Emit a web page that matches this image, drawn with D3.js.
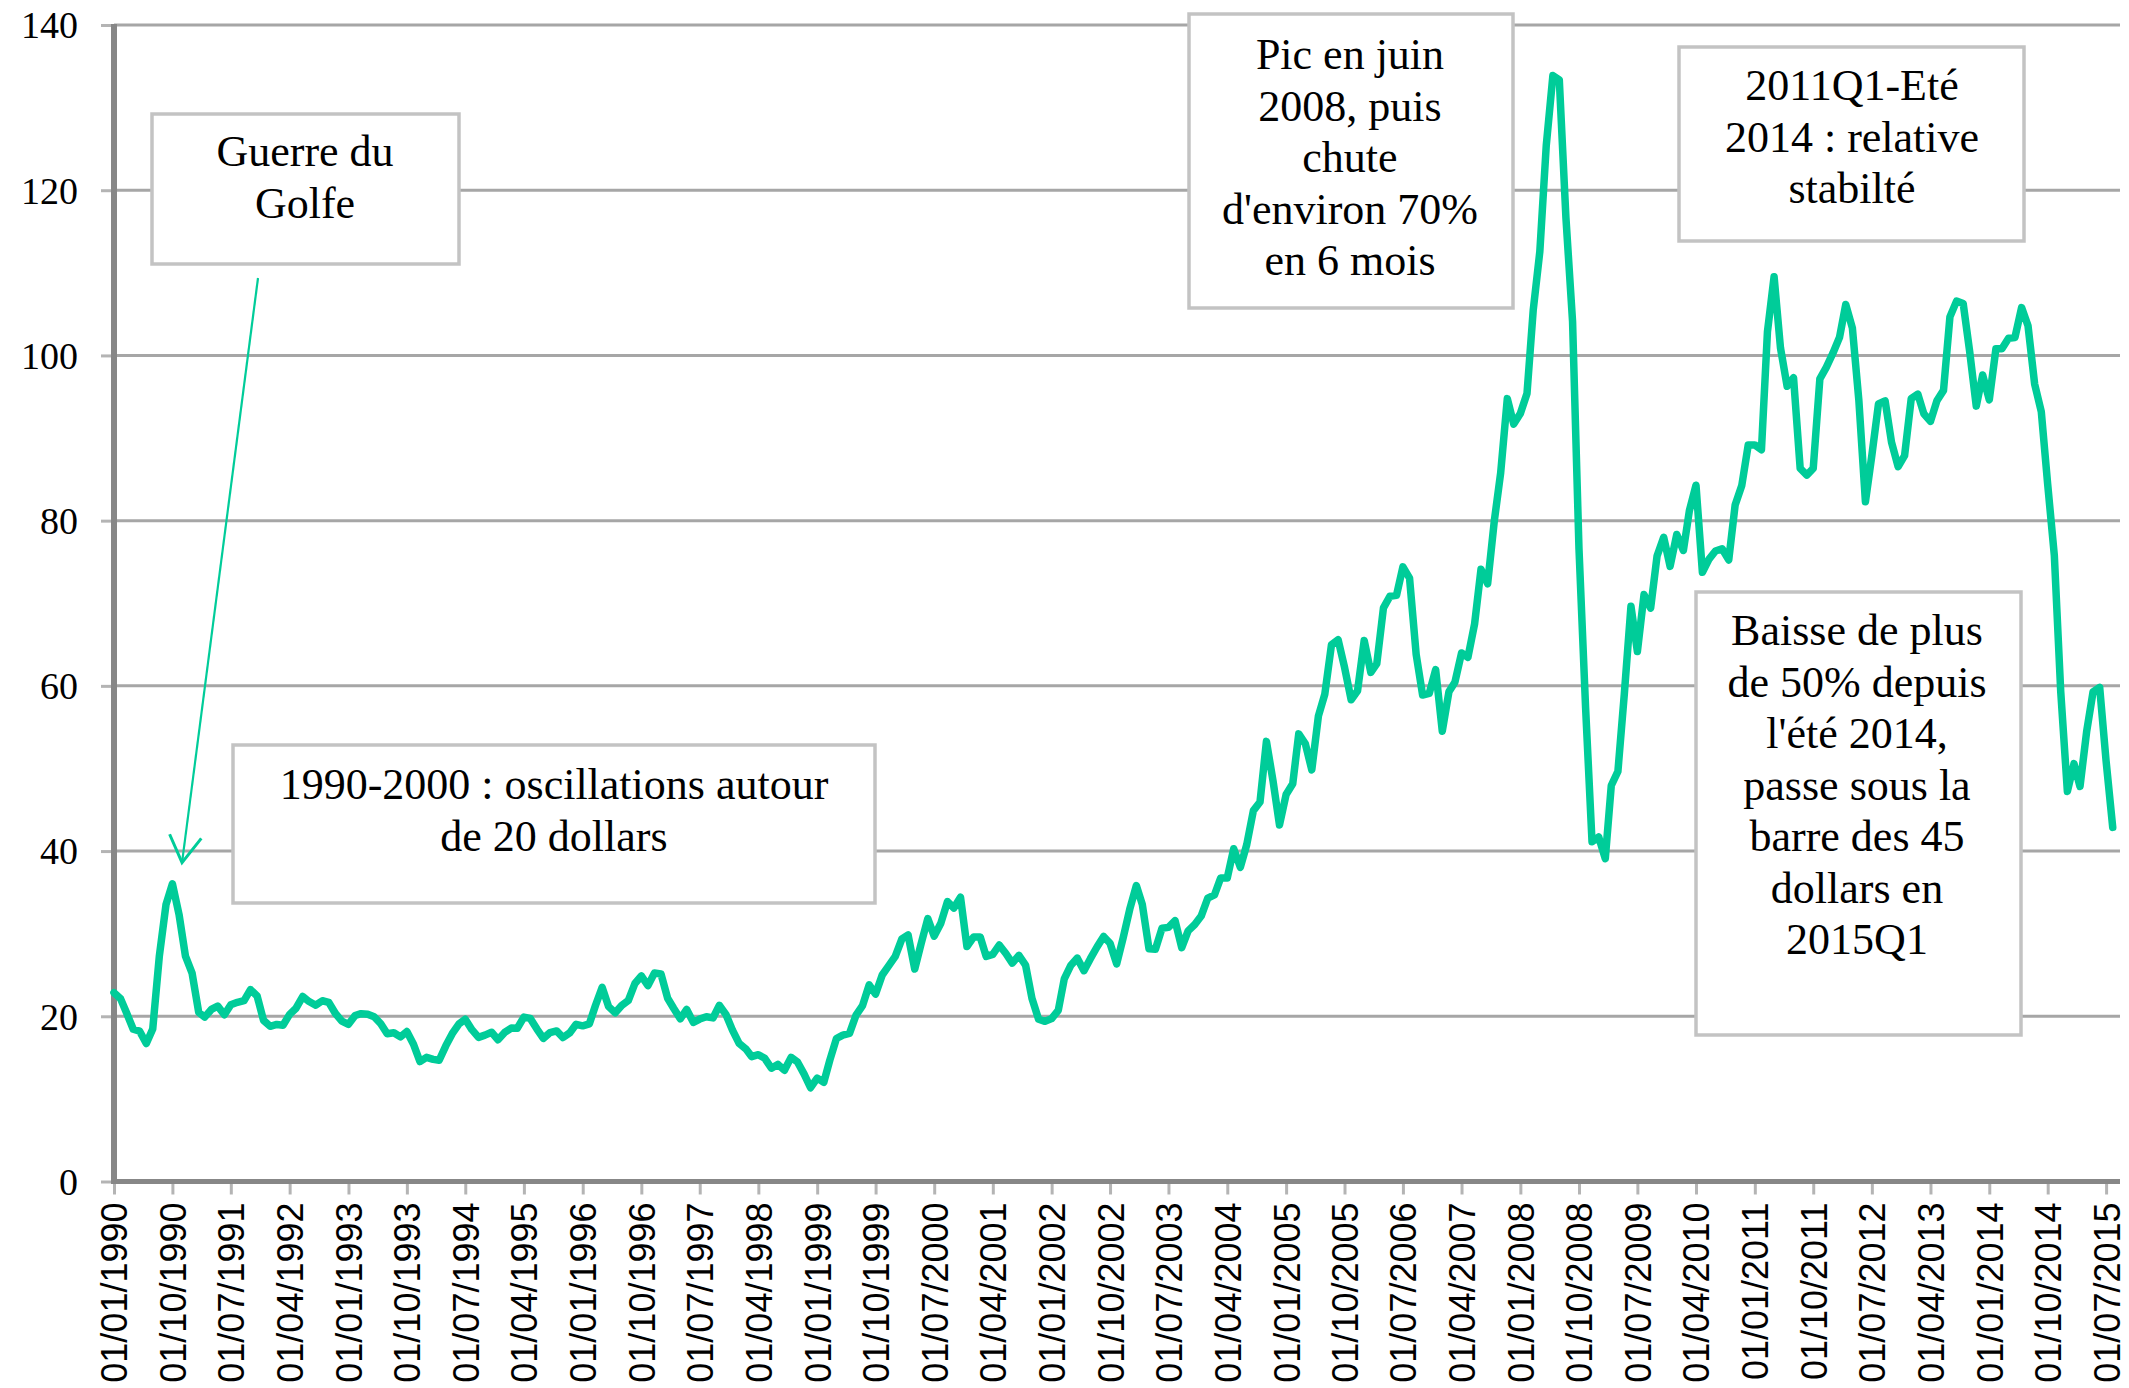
<!DOCTYPE html>
<html>
<head>
<meta charset="utf-8">
<script src="https://cdn.jsdelivr.net/npm/d3@7"></script>
<style>
  body { margin: 0; background: #fff; }
  svg { display: block; }
</style>
</head>
<body>
<svg id="chart" width="2129" height="1388"></svg>
<script>
// monthly WTI spot price, $/barrel, starting January 1990
const firstMonth = "01/01/1990"

const prices1990s = [
  22.86, 22.11, 20.39, 18.43, 18.20, 16.70, 18.45, 27.31, 33.51, 36.04, 32.33, 27.28,
  25.23, 20.48, 19.90, 20.83, 21.23, 20.19, 21.40, 21.69, 21.89, 23.23, 22.46, 19.50,
  18.79, 19.01, 18.92, 20.23, 20.98, 22.39, 21.78, 21.34, 21.88, 21.69, 20.34, 19.41,
  19.03, 20.09, 20.32, 20.25, 19.95, 19.09, 17.89, 18.01, 17.50, 18.15, 16.61, 14.52,
  15.03, 14.78, 14.68, 16.42, 17.89, 19.06, 19.65, 18.38, 17.45, 17.72, 18.07, 17.16,
  18.04, 18.57, 18.54, 19.90, 19.74, 18.45, 17.33, 18.02, 18.23, 17.43, 17.99, 19.03,
  18.85, 19.09, 21.33, 23.50, 21.17, 20.42, 21.30, 21.90, 23.97, 24.88, 23.71, 25.23,
  25.13, 22.18, 20.97, 19.70, 20.82, 19.26, 19.66, 19.95, 19.80, 21.33, 20.19, 18.33,
  16.72, 16.06, 15.12, 15.35, 14.91, 13.72, 14.17, 13.47, 15.03, 14.46, 13.00, 11.35,
  12.52, 12.01, 14.68, 17.31, 17.72, 17.92, 20.10, 21.28, 23.80, 22.69, 25.00, 26.10
]

const prices2000s = [
  27.26, 29.37, 29.84, 25.72, 28.79, 31.82, 29.70, 31.26, 33.88, 33.11, 34.42, 28.44,
  29.59, 29.61, 27.25, 27.49, 28.63, 27.60, 26.43, 27.37, 26.20, 22.17, 19.64, 19.39,
  19.72, 20.72, 24.53, 26.18, 27.04, 25.52, 26.97, 28.39, 29.66, 28.84, 26.35, 29.46,
  32.95, 35.83, 33.51, 28.17, 28.11, 30.66, 30.76, 31.57, 28.31, 30.34, 31.11, 32.13,
  34.31, 34.69, 36.74, 36.75, 40.28, 38.03, 40.78, 44.90, 45.94, 53.28, 48.47, 43.15,
  46.84, 48.15, 54.19, 52.98, 49.83, 56.35, 59.00, 64.99, 65.59, 62.26, 58.32, 59.41,
  65.49, 61.63, 62.69, 69.44, 70.84, 70.95, 74.41, 73.04, 63.80, 58.89, 59.08, 61.96,
  54.51, 59.28, 60.44, 63.98, 63.46, 67.49, 74.12, 72.36, 79.92, 85.80, 94.77, 91.69,
  92.97, 95.39, 105.45, 112.58, 125.40, 133.88, 133.37, 116.67, 104.11, 76.61, 57.31, 41.12,
  41.71, 39.09, 47.94, 49.65, 59.03, 69.64, 64.15, 71.05, 69.41, 75.72, 77.99, 74.47
]

const prices2010s = [
  78.33, 76.39, 81.20, 84.29, 73.74, 75.34, 76.32, 76.60, 75.24, 81.89, 84.25, 89.15,
  89.17, 88.58, 102.86, 109.53, 100.90, 96.26, 97.30, 86.33, 85.52, 86.32, 97.16, 98.56,
  100.27, 102.20, 106.16, 103.32, 94.66, 82.30, 87.90, 94.13, 94.51, 89.49, 86.53, 87.86,
  94.76, 95.31, 92.94, 92.02, 94.51, 95.77, 104.67, 106.57, 106.29, 100.54, 93.86, 97.63,
  94.62, 100.82, 100.80, 102.07, 102.18, 105.79, 103.59, 96.54, 93.21, 84.40, 75.79, 59.29,
  47.22, 50.58, 47.82, 54.45, 59.27, 59.82, 50.90, 42.87
]

const yTicks = [0, 20, 40, 60, 80, 100, 120, 140]

const xTickLabels = [
  "01/01/1990", "01/10/1990", "01/07/1991", "01/04/1992", "01/01/1993", "01/10/1993",
  "01/07/1994", "01/04/1995", "01/01/1996", "01/10/1996", "01/07/1997", "01/04/1998",
  "01/01/1999", "01/10/1999", "01/07/2000", "01/04/2001", "01/01/2002", "01/10/2002",
  "01/07/2003", "01/04/2004", "01/01/2005", "01/10/2005", "01/07/2006", "01/04/2007",
  "01/01/2008", "01/10/2008", "01/07/2009", "01/04/2010", "01/01/2011", "01/10/2011",
  "01/07/2012", "01/04/2013", "01/01/2014", "01/10/2014", "01/07/2015"
]

const noteGolfe = ["Guerre du", "Golfe"]
const note1990s = ["1990-2000 : oscillations autour", "de 20 dollars"]
const notePic = ["Pic en juin", "2008, puis", "chute", "d'environ 70%", "en 6 mois"]
const noteStable = ["2011Q1-Eté", "2014 : relative", "stabilté"]
const noteBaisse = ["Baisse de plus", "de 50% depuis", "l'été 2014,", "passe sous la", "barre des 45", "dollars en", "2015Q1"]

// where the Gulf war arrow points (date, price)
const golfeArrowTip = { date: "15/11/1990", value: 38.6 }

// ---------------------------------------------------------------

const parseDay = d3.timeParse("%d/%m/%Y")
const start = parseDay(firstMonth)
const prices = prices1990s.concat(prices2000s, prices2010s)
const series = prices.map((v, i) => ({ date: d3.timeMonth.offset(start, i), value: v }))

const plot = { left: 114, right: 2120, top: 25, bottom: 1181.5 }
const green = "#00cc99"
const serif = "'Liberation Serif', 'Times New Roman', serif"
const sans = "'Liberation Sans', Arial, sans-serif"

const svg = d3.select("#chart")

const x = d3.scaleTime()
  .domain([start, parseDay("04/09/2015")])
  .range([plot.left, plot.right])

const y = d3.scaleLinear()
  .domain([0, 140])
  .range([plot.bottom, plot.top])

// gridlines
svg.append("g")
  .selectAll("line")
  .data(yTicks.filter(d => d > 0))
  .enter()
  .append("line")
  .attr("x1", plot.left)
  .attr("x2", plot.right)
  .attr("y1", d => y(d))
  .attr("y2", d => y(d))
  .attr("stroke", "#a6a6a6")
  .attr("stroke-width", 3)

// y axis
const yAxis = svg.append("g")
  .attr("transform", "translate(" + plot.left + ",0)")
  .call(d3.axisLeft(y).tickValues(yTicks).tickSize(13).tickPadding(23))
yAxis.select(".domain").remove()
yAxis.selectAll(".tick line").attr("stroke", "#b4b4b4").attr("stroke-width", 3)
yAxis.selectAll(".tick text")
  .attr("font-family", serif)
  .attr("font-size", 38)
  .attr("fill", "#000")
  .attr("dy", "0.34em")

// x axis
const tickDates = xTickLabels.map(parseDay)
const xAxis = svg.append("g")
  .attr("transform", "translate(0," + plot.bottom + ")")
  .call(d3.axisBottom(x).tickValues(tickDates).tickSize(13).tickFormat(d3.timeFormat("%d/%m/%Y")))
xAxis.select(".domain").remove()
xAxis.selectAll(".tick line").attr("stroke", "#b4b4b4").attr("stroke-width", 3)
xAxis.selectAll(".tick text")
  .attr("transform", "rotate(-90)")
  .attr("x", -21)
  .attr("y", 0)
  .attr("dy", "0.36em")
  .attr("text-anchor", "end")
  .attr("font-family", sans)
  .attr("font-size", 36)
  .attr("fill", "#000")

// axis lines
svg.append("line")
  .attr("x1", plot.left).attr("x2", plot.left)
  .attr("y1", plot.top - 1).attr("y2", plot.bottom + 2.5)
  .attr("stroke", "#878787").attr("stroke-width", 6)
svg.append("line")
  .attr("x1", plot.left - 3).attr("x2", plot.right)
  .attr("y1", plot.bottom).attr("y2", plot.bottom)
  .attr("stroke", "#878787").attr("stroke-width", 5)

// price line
const line = d3.line()
  .x(d => x(d.date))
  .y(d => y(d.value))

svg.append("path")
  .datum(series)
  .attr("fill", "none")
  .attr("stroke", green)
  .attr("stroke-width", 7.5)
  .attr("stroke-linejoin", "round")
  .attr("stroke-linecap", "round")
  .attr("d", line)

// text boxes
function note(lines, box, cx, firstBaseline) {
  const g = svg.append("g")
  g.append("rect")
    .attr("x", box[0]).attr("y", box[1])
    .attr("width", box[2]).attr("height", box[3])
    .attr("fill", "#fff")
    .attr("stroke", "#c3c3c3")
    .attr("stroke-width", 3.5)
  g.selectAll("text")
    .data(lines)
    .enter()
    .append("text")
    .attr("x", cx)
    .attr("y", (d, i) => firstBaseline + i * 51.5)
    .attr("text-anchor", "middle")
    .attr("font-family", serif)
    .attr("font-size", 44)
    .attr("fill", "#000")
    .text(d => d)
}

note(noteGolfe, [152, 114, 307, 150], 305, 166)
note(note1990s, [233, 745, 642, 158], 554, 799)
note(notePic, [1189, 14, 324, 294], 1350, 69)
note(noteStable, [1679, 47, 345, 194], 1852, 100)
note(noteBaisse, [1696, 592, 325, 443], 1857, 645)

// arrow for the gulf war
const tipX = x(parseDay(golfeArrowTip.date)), tipY = y(golfeArrowTip.value)
const tailX = 258, tailY = 278
const ang = Math.atan2(tailY - tipY, tailX - tipX)
const armLen = 31, spread = 31 * Math.PI / 180

svg.append("line")
  .attr("x1", tailX).attr("y1", tailY)
  .attr("x2", tipX).attr("y2", tipY)
  .attr("stroke", green).attr("stroke-width", 2.2)

svg.append("path")
  .attr("d", d3.line()([
    [tipX + armLen * Math.cos(ang - spread), tipY + armLen * Math.sin(ang - spread)],
    [tipX, tipY],
    [tipX + armLen * Math.cos(ang + spread), tipY + armLen * Math.sin(ang + spread)]
  ]))
  .attr("fill", "none")
  .attr("stroke", green)
  .attr("stroke-width", 3)
</script>
</body>
</html>
